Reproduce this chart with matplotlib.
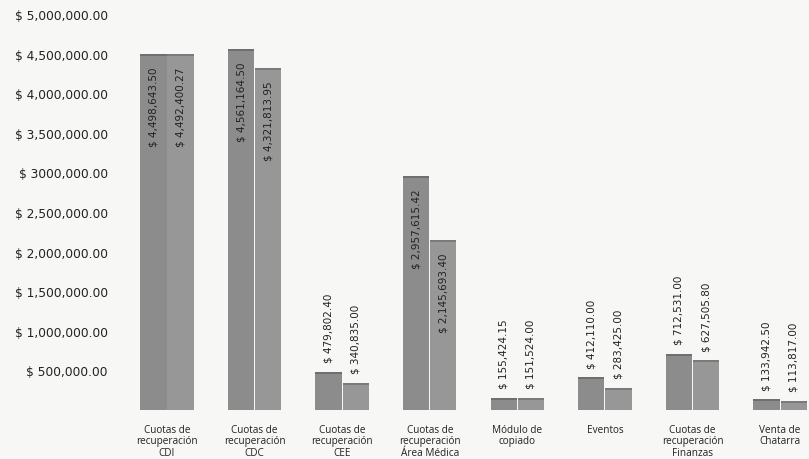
import numpy as np
import matplotlib
matplotlib.use("Agg")
import matplotlib.pyplot as plt

plt.rcParams['font.family'] = ['Open Sans', 'DejaVu Sans']

# data
categorias = ["Cuotas de\nrecuperación\nCDI", "Cuotas de\nrecuperación\nCDC",
              "Cuotas de\nrecuperación\nCEE", "Cuotas de\nrecuperación\nÁrea Médica",
              "Módulo de\ncopiado", "Eventos", "Cuotas de\nrecuperación\nFinanzas",
              "Venta de\nChatarra"]
serie_a = [4498643.50, 4561164.50, 479802.40, 2957615.42, 155424.15, 412110.00, 712531.00, 133942.50]
serie_b = [4492400.27, 4321813.95, 340835.00, 2145693.40, 151524.00, 283425.00, 627505.80, 113817.00]
etiquetas_a = ["$ 4,498,643.50", "$ 4,561,164.50", "$ 479,802.40", "$ 2,957,615.42",
               "$ 155,424.15", "$ 412,110.00", "$ 712,531.00", "$ 133,942.50"]
etiquetas_b = ["$ 4,492,400.27", "$ 4,321,813.95", "$ 340,835.00", "$ 2,145,693.40",
               "$ 151,524.00", "$ 283,425.00", "$ 627,505.80", "$ 113,817.00"]
yticks = [500000, 1000000, 1500000, 2000000, 2500000, 3000000, 3500000, 4000000, 4500000, 5000000]
ytick_labels = ["$ 500,000.00", "$ 1,000,000.00", "$ 1,500,000.00", "$ 2,000,000.00",
                "$ 2,500,000.00", "$ 3000,000.00", "$ 3,500,000.00", "$ 4,000,000.00",
                "$ 4,500,000.00", "$ 5,000,000.00"]

bg = '#f7f7f6'
fig = plt.figure(figsize=(8.09, 4.60), dpi=100, facecolor=bg)
ax = fig.add_axes([123.2 / 809, 49 / 460, (809 - 123.2) / 809, 406 / 460], facecolor=bg)

x = np.arange(len(categorias))
w = 0.3
off = 0.155
bars_a = ax.bar(x - off, serie_a, w, color='#8c8c8c', edgecolor='none')
bars_b = ax.bar(x + off, serie_b, w, color='#979797', edgecolor='none')

# darker rim along the top of each bar, as in the scan
rim = 25000
ax.bar(x - off, rim, w, bottom=np.array(serie_a) - rim, color='#6f6f6f')
ax.bar(x + off, rim, w, bottom=np.array(serie_b) - rim, color='#7a7a7a')

# value labels: inside for tall bars, above for short ones
for bars, labels in ((bars_a, etiquetas_a), (bars_b, etiquetas_b)):
    for b, lab in zip(bars, labels):
        h = b.get_height()
        cx = b.get_x() + b.get_width() / 2
        if h > 2000000:
            ax.annotate(lab, (cx, h), xytext=(0, -9), textcoords='offset points',
                        rotation=90, ha='center', va='top', fontsize=7.5,
                        color='#222222', family='DejaVu Sans')
        else:
            ax.annotate(lab, (cx, h), xytext=(0, 7), textcoords='offset points',
                        rotation=90, ha='center', va='bottom', fontsize=7.5,
                        color='#222222', family='DejaVu Sans')

ax.set_xlim(-0.5, 7.33)
ax.set_ylim(0, 5126000)
ax.set_yticks(yticks)
ax.set_yticklabels(ytick_labels, fontsize=8.8, color='#222222', family='DejaVu Sans')
ax.set_xticks(x)
ax.set_xticklabels(categorias, fontsize=7.2, color='#222222', linespacing=1.05)
ax.tick_params(axis='both', length=0)
ax.tick_params(axis='y', pad=11)
ax.tick_params(axis='x', pad=10)
for s in ax.spines.values():
    s.set_visible(False)

fig.savefig('out.png', dpi=100, facecolor=bg)
